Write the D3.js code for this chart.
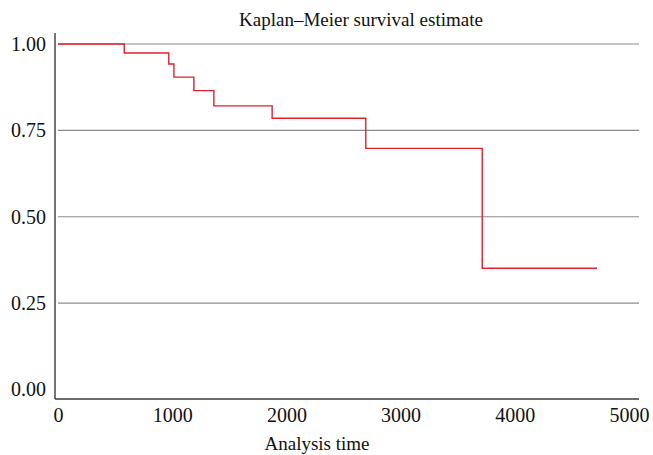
<!DOCTYPE html>
<html>
<head>
<meta charset="utf-8">
<script src="https://cdn.jsdelivr.net/npm/d3@7"></script>
<style>
  body { margin: 0; background: #fff; }
  svg text { font-family: 'Times New Roman', 'Liberation Serif', Tinos, 'DejaVu Serif', serif; fill: #111; }
</style>
</head>
<body>
<div id="chart"></div>
<script>
const width = 653;
const height = 455;
const serif = "'Times New Roman', 'Liberation Serif', Tinos, 'DejaVu Serif', serif";

// step times (analysis time) and survival after each step
const times = [0, 580, 970, 1015, 1190, 1365, 1875, 2695, 3715];
const survival = [1.0, 0.974, 0.942, 0.904, 0.865, 0.821, 0.785, 0.698, 0.351];
const lastTime = 4720;

const xTicks = [0, 1000, 2000, 3000, 4000, 5000];
const yTicks = [0, 0.25, 0.5, 0.75, 1];

const plotLeft = 55, plotRight = 639, plotBottom = 399, plotTop = 33;

const svg = d3.select("#chart")
    .append("svg")
    .attr("width", width)
    .attr("height", height);

const x = d3.scaleLinear().domain([0, 5000]).range([58, 629]);
const y = d3.scaleLinear().domain([0, 1]).range([389.5, 44]);

// grid lines (none at zero)
svg.append("g")
    .selectAll("line")
    .data(yTicks.filter(d => d > 0))
    .enter()
    .append("line")
    .attr("x1", 58)
    .attr("x2", plotRight)
    .attr("y1", d => y(d))
    .attr("y2", d => y(d))
    .attr("stroke", "#8c8c8c")
    .attr("stroke-width", 1.1);

// axes
const yAxis = svg.append("g")
    .attr("transform", `translate(${plotLeft},0)`)
    .call(d3.axisLeft(y).tickValues(yTicks).tickFormat(d3.format(".2f")).tickSize(0).tickPadding(9));
yAxis.select(".domain").remove();
yAxis.attr("font-family", serif);
yAxis.selectAll("text").attr("font-size", "20px").attr("font-family", serif).attr("fill", "#111");

const xAxis = svg.append("g")
    .attr("transform", `translate(0,${plotBottom})`)
    .call(d3.axisBottom(x).tickValues(xTicks).tickFormat(d3.format("d")).tickSize(0).tickPadding(9));
xAxis.select(".domain").remove();
xAxis.attr("font-family", serif);
xAxis.selectAll("text").attr("font-size", "20px").attr("font-family", serif).attr("fill", "#111");

svg.append("line")
    .attr("x1", plotLeft).attr("x2", plotLeft)
    .attr("y1", plotTop).attr("y2", plotBottom)
    .attr("stroke", "#3a3a3a").attr("stroke-width", 1.4);
svg.append("line")
    .attr("x1", plotLeft).attr("x2", plotRight)
    .attr("y1", plotBottom).attr("y2", plotBottom)
    .attr("stroke", "#3a3a3a").attr("stroke-width", 1.4);

// KM step curve
const pts = times.map((t, i) => [t, survival[i]]);
pts.push([lastTime, survival[survival.length - 1]]);

const line = d3.line()
    .x(d => x(d[0]))
    .y(d => y(d[1]))
    .curve(d3.curveStepAfter);

svg.append("path")
    .datum(pts)
    .attr("d", line)
    .attr("fill", "none")
    .attr("stroke", "#e3202c")
    .attr("stroke-width", 1.4);

// titles
svg.append("text")
    .attr("x", 361)
    .attr("y", 26)
    .attr("text-anchor", "middle")
    .attr("font-family", serif)
    .attr("font-size", "19px")
    .text("Kaplan\u2013Meier survival estimate");

svg.append("text")
    .attr("x", 317)
    .attr("y", 450)
    .attr("text-anchor", "middle")
    .attr("font-family", serif)
    .attr("font-size", "19px")
    .text("Analysis time");
</script>
</body>
</html>
